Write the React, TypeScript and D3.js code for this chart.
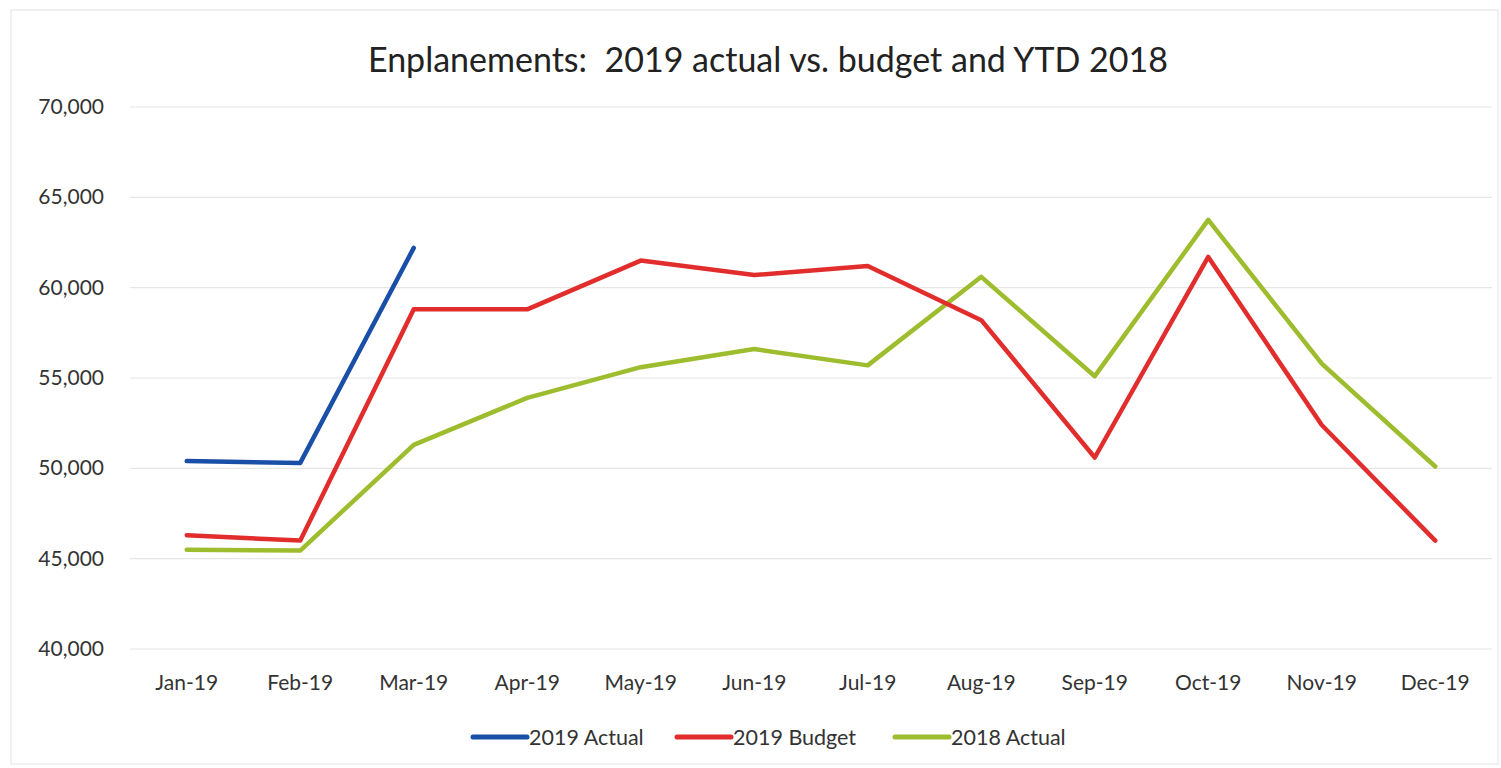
import React from "react";
import * as d3 from "d3";

const months = ["Jan-19","Feb-19","Mar-19","Apr-19","May-19","Jun-19","Jul-19","Aug-19","Sep-19","Oct-19","Nov-19","Dec-19"];
const actual2019 = [50400, 50300, 62200];
const budget2019 = [46300, 46000, 58800, 58800, 61500, 60700, 61200, 58200, 50600, 61700, 52400, 46000];
const actual2018 = [45500, 45450, 51300, 53900, 55600, 56600, 55700, 60600, 55100, 63750, 55800, 50100];
const yTicks = [40000, 45000, 50000, 55000, 60000, 65000, 70000];

const seriesNames = ["2019 Actual", "2019 Budget", "2018 Actual"];
const seriesColors = ["#1a4fa8", "#e22d2d", "#9dbd2e"];

const W = 1501, H = 768;
const left = 130, right = 1492, top = 107, bottom = 649;
const FONT = "Lato, 'Open Sans', sans-serif";

export default function App() {
  const x = d3.scalePoint<string>().domain(months).range([left, right]).padding(0.5);
  const y = d3.scaleLinear().domain([40000, 70000]).range([bottom, top]);
  const line = d3.line<number>().x((_, i) => x(months[i])!).y(d => y(d));
  const fmt = d3.format(",");
  const data = [actual2019, budget2019, actual2018];
  const legendX = [473, 677, 895];

  return (
    <svg width={W} height={H} style={{ position: "absolute", left: 0, top: 0, background: "#fff" }}>
      <rect x={11} y={10} width={W - 14} height={H - 14} fill="none" stroke="#ececec" strokeWidth={1.5} />
      <text x={768} y={72} textAnchor="middle" fontFamily={FONT} fontSize={34} fill="#222" style={{ whiteSpace: "pre" }}>
        {"Enplanements:  2019 actual vs. budget and YTD 2018"}
      </text>
      {yTicks.map(t => (
        <g key={t}>
          <line x1={left} x2={right} y1={y(t)} y2={y(t)} stroke="#e6e6e6" strokeWidth={1.2} />
          <text x={104} y={y(t) + 7} textAnchor="end" fontFamily={FONT} fontSize={21} fill="#333">{fmt(t)}</text>
        </g>
      ))}
      {months.map(m => (
        <text key={m} x={x(m)} y={690} textAnchor="middle" fontFamily={FONT} fontSize={21} fill="#333">{m}</text>
      ))}
      {[2, 1, 0].map(k => (
        <path key={k} d={line(data[k]) || ""} fill="none" stroke={seriesColors[k]} strokeWidth={4.5} strokeLinejoin="round" strokeLinecap="round" />
      ))}
      {seriesNames.map((n, k) => (
        <g key={n}>
          <line x1={legendX[k]} x2={legendX[k] + 54} y1={737} y2={737} stroke={seriesColors[k]} strokeWidth={5} strokeLinecap="round" />
          <text x={legendX[k] + 56} y={745} fontFamily={FONT} fontSize={21.5} fill="#333">{n}</text>
        </g>
      ))}
    </svg>
  );
}
